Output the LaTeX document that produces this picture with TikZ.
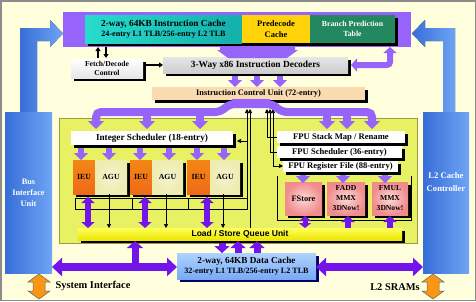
\documentclass[tikz,border=0pt]{standalone}
\usepackage{fontspec}
\setmainfont{Liberation Serif}
\newfontfamily\arialf{Liberation Sans}
\usetikzlibrary{arrows.meta,shadows}
\definecolor{bgy}{RGB}{255,255,222}
\definecolor{lav}{RGB}{150,100,250}
\definecolor{vio}{RGB}{115,20,235}
\definecolor{tealA}{RGB}{40,220,205}
\definecolor{tealB}{RGB}{20,175,170}
\definecolor{predy}{RGB}{255,210,10}
\definecolor{bgreen}{RGB}{35,135,95}
\definecolor{exy}{RGB}{232,240,100}
\definecolor{peach}{RGB}{250,218,175}
\definecolor{ieuor}{RGB}{240,105,25}
\definecolor{agu}{RGB}{238,236,175}
\definecolor{pinkf}{RGB}{240,140,140}
\definecolor{pinkl}{RGB}{255,215,215}
\definecolor{blueA}{RGB}{55,110,215}
\definecolor{blueB}{RGB}{110,165,245}
\definecolor{dcA}{RGB}{175,210,255}
\definecolor{dcB}{RGB}{120,170,245}
\definecolor{lsqA}{RGB}{255,255,90}
\definecolor{lsqB}{RGB}{235,230,0}
\definecolor{orng}{RGB}{250,150,20}
\definecolor{decg}{RGB}{205,205,205}
\begin{document}
\begin{tikzpicture}[x=1pt,y=-1pt,
  shb/.style={drop shadow={shadow xshift=3pt,shadow yshift=-3pt,fill=black,opacity=1}},
  bx/.style={inner sep=0pt,outer sep=0pt,anchor=north west,align=center,font=\bfseries\fontsize{8.6}{10}\selectfont},
  lavA/.style={draw=lav,line width=6pt,-{Triangle[width=14pt,length=7pt]}},
  vioA/.style={draw=vio,line width=6pt,-{Triangle[width=13pt,length=6pt]}},
  vioD/.style={draw=vio,line width=6pt,{Triangle[width=13pt,length=6pt]}-{Triangle[width=13pt,length=6pt]}},
  vioB/.style={draw=vio,line width=8pt,{Triangle[width=18pt,length=10pt]}-{Triangle[width=18pt,length=10pt]}},
  blk/.style={draw=black,line width=1.3pt,-{Triangle[width=5pt,length=4pt]}},
  blt/.style={draw=black,line width=0.7pt,-{Triangle[width=4pt,length=4pt]}},
  wire/.style={draw=black,line width=0.6pt},
  orA/.style={fill=orng,draw=black!60,line width=0.5pt},
  unitf/.style={font=\bfseries\fontsize{7.8}{9}\selectfont}
]
\useasboundingbox (0,0) rectangle (476,301);
\fill[bgy] (0,0) rectangle (476,301);
\draw[black!45,line width=1.5pt] (0.75,0.75) rectangle (475.25,300.25);

% execution area
\fill[exy] (59,118) rectangle (417,243);
\draw[black!35!exy,line width=0.5pt] (59,118) rectangle (417,243);

% blue columns and stems
\fill[left color=blueA,right color=blueB] (20,113) -- (20,28) -- (50,28) -- (50,20) -- (63,33.5) -- (50,47) -- (50,41) -- (37,41) -- (37,113) -- cycle;
\fill[left color=blueA,right color=blueB] (455,113) -- (455,28) -- (425,28) -- (425,20) -- (412,33.5) -- (425,47) -- (425,41) -- (443,41) -- (443,113) -- cycle;
\node[bx,minimum width=47pt,minimum height=161pt,left color=blueA,right color=blueB,text=white,font=\bfseries\fontsize{8.3}{11}\selectfont] (biu) at (5,112) {Bus\\Interface\\Unit};
\node[bx,minimum width=46pt,minimum height=161pt,left color=blueA,right color=blueB,text=white,font=\bfseries\fontsize{8.6}{12.5}\selectfont] (l2c) at (423,112) {L2 Cache\\Controller\\[8pt]};

% top box
\node[bx,fill=lav,minimum width=348pt,minimum height=35pt] (topbox) at (63,12) {};
\fill[black] (88,18) rectangle (398,46);
\node[bx,left color=tealA,right color=tealB,minimum width=157pt,minimum height=28pt] (icache) at (85,15)
  {{\fontsize{9.3}{11}\selectfont 2-way, 64KB Instruction Cache}\\{\fontsize{8.1}{9.5}\selectfont 24-entry L1 TLB/256-entry L2 TLB}};
\node[bx,fill=predy,minimum width=68pt,minimum height=28pt,font=\bfseries\fontsize{8.5}{10.5}\selectfont] (pred) at (242,15) {Predecode\\Cache};
\node[bx,fill=bgreen,text=white,minimum width=85pt,minimum height=28pt,font=\bfseries\fontsize{7.8}{10.5}\selectfont] (bpt) at (310,15) {Branch Prediction\\Table};

% fetch/decode and decoders
\node[bx,shb,top color=white,bottom color=black!10,minimum width=72pt,minimum height=19pt,font=\bfseries\fontsize{7.6}{9}\selectfont] (fetch) at (71,59) {Fetch/Decode\\Control};
\draw[blk] (98,58) -- (98,47);
\draw[blk] (106,47) -- (106,58);
\draw[blk] (146,65) -- (163,65);
\node[bx,shb,top color=black!10,bottom color=decg,minimum width=185pt,minimum height=16pt,font=\bfseries\fontsize{9.4}{10}\selectfont] (dec) at (163,57) {3-Way x86 Instruction Decoders};
\fill[lav] (220,46) -- (295,46) -- (295,50) -- (298,50) -- (287,58) -- (228,58) -- (217,50) -- (220,50) -- cycle;
\draw[draw=lav,line width=6pt,{Triangle[width=13pt,length=6pt]}-{Triangle[width=13pt,length=6pt]},rounded corners=3pt] (390,47) -- (390,65) -- (351,65);
\draw[lavA] (235,76) -- (235,87);
\draw[lavA] (257,76) -- (257,87);
\draw[lavA] (280,76) -- (280,87);

% ICU
\node[bx,shb,fill=peach,minimum width=213pt,minimum height=13pt,font=\bfseries\fontsize{8.3}{9}\selectfont] (icu) at (152,87) {Instruction Control Unit (72-entry)};

% wiring (thin black)
\draw[blt] (247,209) -- (247,109);
\draw[wire] (250,228) -- (250,113);
\draw[blt] (250,114) -- (250,109);
\draw[blt] (247,141) -- (237,141);
\draw[blt] (267,137) -- (267,109);
\draw[wire] (267,137) -- (277,137);
\draw[blt] (270,152) -- (270,109);
\draw[wire] (270,152) -- (277,152);
\draw[blt] (273,120) -- (273,109);
\draw[blt] (273,120) -- (273,166) -- (283,166);
\draw[wire] (75,198) rectangle (247,209);
\draw[wire] (132,198) -- (132,209);
\draw[wire] (188,198) -- (188,209);
\draw[wire] (277,176) -- (277,220) -- (411,220) -- (411,176);

% fan-out band
\draw[draw=lav,line width=8pt,rounded corners=5pt,{Triangle[width=16pt,length=8pt]}-{Triangle[width=16pt,length=8pt]}] (96,129) -- (96,112) -- (220,112) -- (230,104) -- (272,104) -- (282,112) -- (372,112) -- (372,129);
\fill[lav] (232,99) rectangle (270,106);
\draw[draw=lav,line width=8pt,-{Triangle[width=16pt,length=8pt]}] (147,110) -- (147,129);
\draw[draw=lav,line width=8pt,-{Triangle[width=16pt,length=8pt]}] (200,110) -- (200,129);
\draw[draw=lav,line width=8pt,-{Triangle[width=16pt,length=8pt]}] (327,110) -- (327,129);
\draw[draw=lav,line width=8pt,-{Triangle[width=16pt,length=8pt]}] (347,110) -- (347,129);

% integer side
\node[bx,shb,fill=white,minimum width=162pt,minimum height=14pt,font=\bfseries\fontsize{9.2}{10}\selectfont] (isch) at (71,131) {Integer Scheduler (18-entry)};
\fill[black] (76,163) rectangle (130,197);
\fill[black] (133,163) rectangle (186,197);
\fill[black] (190,163) rectangle (243,197);
\node[bx,unitf,top color=ieuor!80!yellow,bottom color=ieuor,minimum width=22pt,minimum height=34pt] (ieu1) at (73,160) {IEU};
\node[bx,unitf,inner color=agu!60!white,outer color=agu,minimum width=32pt,minimum height=34pt] (agu1) at (95,160) {AGU};
\node[bx,unitf,top color=ieuor!80!yellow,bottom color=ieuor,minimum width=22pt,minimum height=34pt] (ieu2) at (130,160) {IEU};
\node[bx,unitf,inner color=agu!60!white,outer color=agu,minimum width=31pt,minimum height=34pt] (agu2) at (152,160) {AGU};
\node[bx,unitf,top color=ieuor!80!yellow,bottom color=ieuor,minimum width=23pt,minimum height=34pt] (ieu3) at (187,160) {IEU};
\node[bx,unitf,inner color=agu!60!white,outer color=agu,minimum width=30pt,minimum height=34pt] (agu3) at (210,160) {AGU};
\foreach \x in {81,109,140,169,197,224} \draw[lavA] (\x,148) -- (\x,160);

% FPU side
\node[bx,shb,fill=white,minimum width=128pt,minimum height=12pt] (fsm) at (277,131) {FPU Stack Map / Rename};
\node[bx,shb,fill=white,minimum width=125pt,minimum height=12pt] (fsch) at (277,146) {FPU Scheduler (36-entry)};
\node[bx,shb,fill=white,minimum width=115pt,minimum height=11pt] (frf) at (283,161) {FPU Register File (88-entry)};
\node[bx,shb,inner color=pinkl,outer color=pinkf,minimum width=37pt,minimum height=33pt,font=\bfseries\fontsize{8.3}{9}\selectfont] (fst) at (285,182) {FStore};
\node[bx,shb,inner color=pinkl,outer color=pinkf,minimum width=38pt,minimum height=33pt,font=\bfseries\fontsize{7.6}{10}\selectfont] (fadd) at (327,182) {FADD\\MMX\\3DNow!};
\node[bx,shb,inner color=pinkl,outer color=pinkf,minimum width=36pt,minimum height=33pt,font=\bfseries\fontsize{7.6}{10}\selectfont] (fmul) at (372,182) {FMUL\\MMX\\3DNow!};
\draw[lavA] (303,175) -- (303,183);
\draw[lavA] (343,175) -- (343,183);
\draw[lavA] (385,175) -- (385,183);

% load/store queue
\node[bx,shb,top color=lsqA,bottom color=lsqB,minimum width=324pt,minimum height=12pt,font=\arialf\bfseries\fontsize{8.5}{9}\selectfont] (lsq) at (78,228) {Load / Store Queue Unit};
\foreach \x in {88,145,207} \draw[vioD] (\x,197) -- (\x,228);
\foreach \x in {109,166,223} \draw[blt] (\x,194) -- (\x,228);
\draw[draw=vio,line width=5pt,{Triangle[width=12pt,length=5pt]}-{Triangle[width=12pt,length=5pt]}] (305,216) -- (305,228);
\draw[draw=vio,line width=6pt,-{Triangle[width=13pt,length=6pt]}] (348,228) -- (348,216);
\draw[draw=vio,line width=6pt,-{Triangle[width=13pt,length=6pt]}] (390,228) -- (390,216);

% data cache
\node[bx,drop shadow={shadow xshift=3pt,shadow yshift=-3pt,fill=blue!40!black,opacity=1},top color=dcA,bottom color=dcB,minimum width=139pt,minimum height=26pt] (dc) at (177,253)
  {{\fontsize{9.2}{10.5}\selectfont 2-way, 64KB Data Cache}\\{\fontsize{8.1}{9.5}\selectfont 32-entry L1 TLB/256-entry L2 TLB}};
\draw[draw=vio,line width=7pt,-{Triangle[width=15pt,length=7pt]}] (222,243) -- (222,253);
\draw[draw=vio,line width=7pt,-{Triangle[width=15pt,length=7pt]}] (238,253) -- (238,241);
\draw[draw=vio,line width=7pt,-{Triangle[width=15pt,length=7pt]}] (257,253) -- (257,241);
\draw[vioB] (biu.east |- 0,267) -- (dc.west |- 0,267);
\draw[vioB] (dc.east |- 0,267) -- (l2c.west |- 0,267);
\draw[draw=vio,line width=7pt,-{Triangle[width=16pt,length=7pt]}] (135,268) -- (135,241);

% bottom labels and orange arrows
\draw[orA] (39,274) -- (50,282) -- (45,282) -- (45,291) -- (50,291) -- (39,299) -- (28,291) -- (33,291) -- (33,282) -- (28,282) -- cycle;
\draw[orA] (433,274) -- (444,282) -- (439,282) -- (439,291) -- (444,291) -- (433,299) -- (422,291) -- (427,291) -- (427,282) -- (422,282) -- cycle;
\node[font=\bfseries\fontsize{10.4}{12}\selectfont,inner sep=0pt] (sysi) at (93,286) {System Interface};
\node[font=\bfseries\fontsize{10.4}{12}\selectfont,inner sep=0pt] (sram) at (395,287) {L2 SRAMs};
\end{tikzpicture}
\end{document}
